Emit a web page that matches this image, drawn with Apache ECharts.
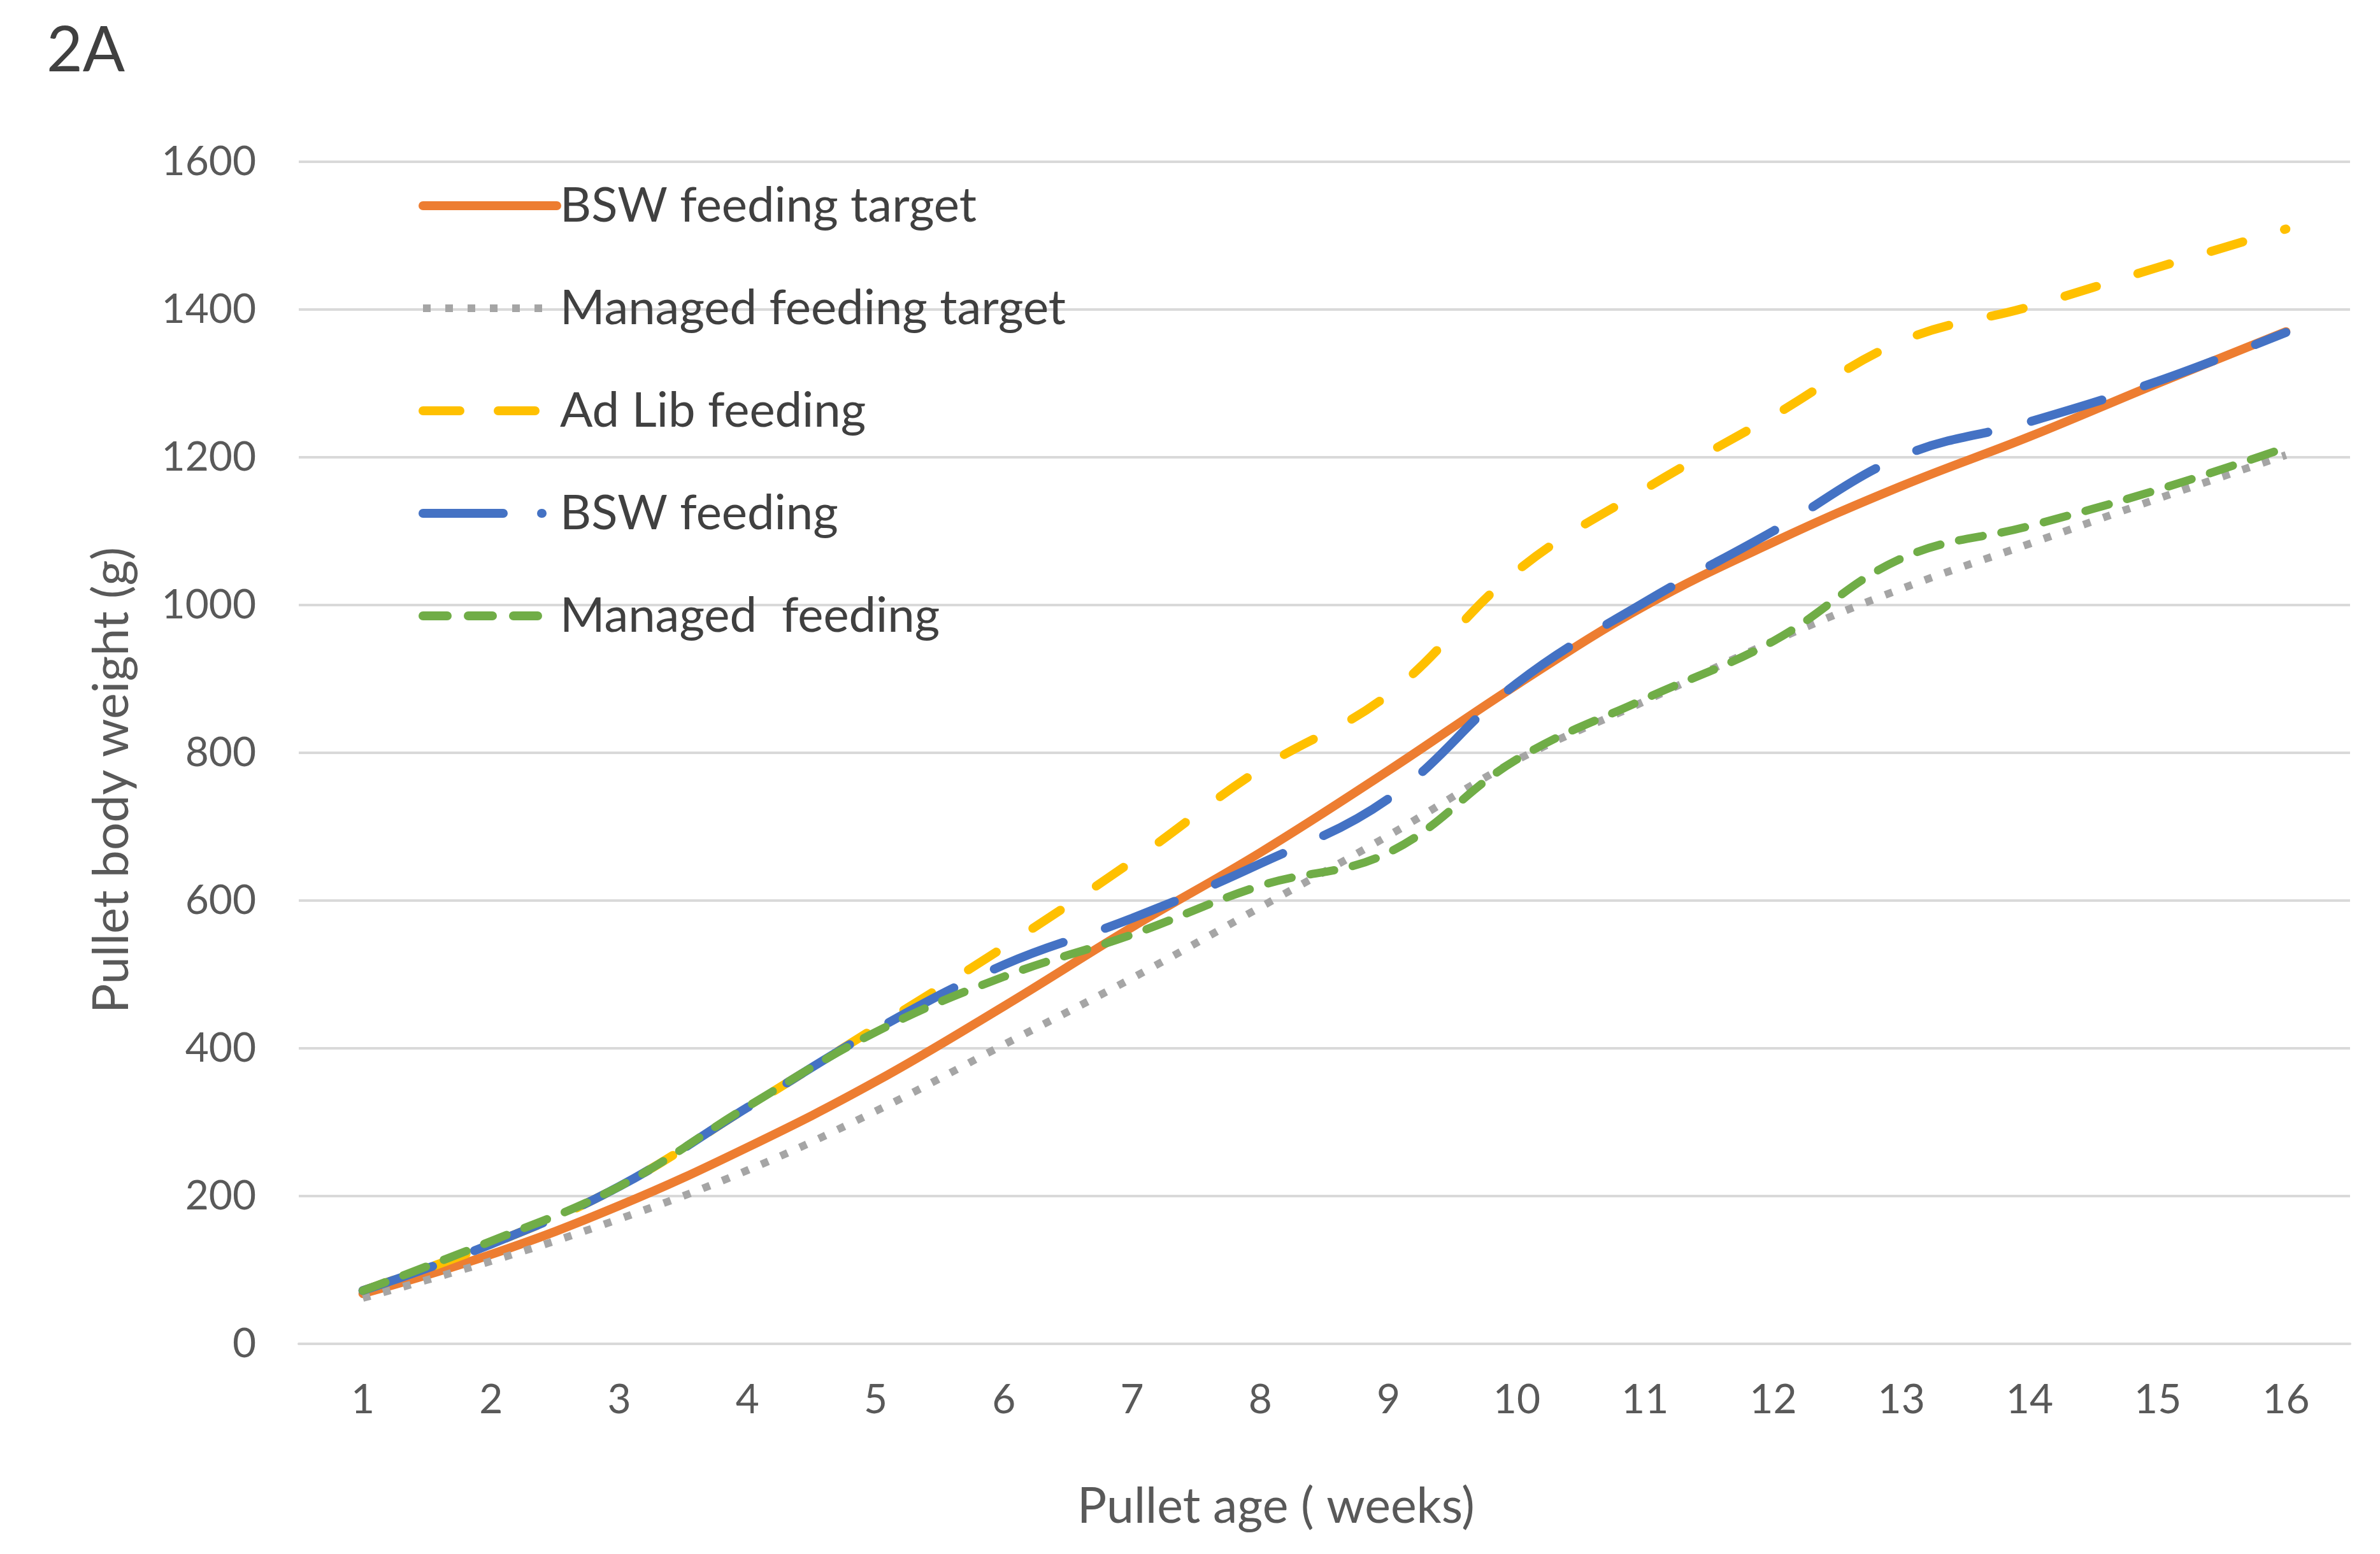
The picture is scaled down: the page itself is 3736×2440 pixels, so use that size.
<!DOCTYPE html>
<html>
<head>
<meta charset="utf-8">
<script src="https://cdn.jsdelivr.net/npm/echarts@6/dist/echarts.min.js"></script>
<style>
html,body{margin:0;padding:0;background:#fff;}
#chart{width:3736px;height:2440px;}
</style>
</head>
<body>
<div id="chart"></div>
<script>
const weeks = ['1','2','3','4','5','6','7','8','9','10','11','12','13','14','15','16'];
const yTicks = [0, 200, 400, 600, 800, 1000, 1200, 1400, 1600];
const seriesNames = ['BSW feeding target', 'Managed feeding target', 'Ad Lib feeding', 'BSW feeding', 'Managed  feeding'];
const bswTarget     = [68, 121, 187, 266, 355, 457, 564, 665, 776, 892, 999, 1085, 1161, 1228, 1300, 1370];
const managedTarget = [62, 112, 169, 235, 315, 405, 495, 591, 688, 790, 870, 951, 1022, 1083, 1144, 1203];
const adLib         = [72, 135, 213, 320, 428, 537, 653, 778, 879, 1046, 1157, 1256, 1357, 1404, 1457, 1509];
const bswFeeding    = [72, 135, 213, 320, 425, 513, 576, 650, 738, 894, 1004, 1100, 1201, 1248, 1303, 1369];
const managedFeeding= [72, 139, 213, 321, 422, 497, 554, 620, 665, 791, 873, 951, 1063, 1107, 1156, 1213];

const FONT = 'Lato';
const chart = echarts.init(document.getElementById('chart'), null, {renderer: 'canvas'});

const colors = ['#ED7D31', '#A5A5A5', '#FFC000', '#4472C4', '#70AD47'];

function lineSeries(name, data, color, width, type, cap) {
  return {
    name: name, type: 'line', data: data, smooth: 0.4,
    symbol: 'none', showSymbol: false,
    lineStyle: {color: color, width: width, type: type, cap: cap},
    itemStyle: {color: color},
    emphasis: {disabled: true},
    animation: false
  };
}

const option = {
  backgroundColor: '#ffffff',
  animation: false,
  title: {
    text: '2A', left: 68, top: 26,
    textStyle: {fontFamily: FONT, fontSize: 98, fontWeight: 'normal', color: '#404040'}
  },
  grid: {left: 469, right: 47, top: 254, bottom: 330, containLabel: false},
  legend: {
    orient: 'vertical', left: 652, top: 278,
    itemWidth: 210, itemHeight: 16, itemGap: 81,
    itemStyle: {opacity: 0},
    textStyle: {fontFamily: FONT, fontSize: 76, color: '#404040', lineHeight: 80},
    data: [
      {name: seriesNames[0], lineStyle: {color: colors[0], width: 14, type: 'solid', cap: 'round'}},
      {name: seriesNames[1], lineStyle: {color: colors[1], width: 12, type: [12, 23, 12, 23, 12, 23, 12, 23, 12, 23, 12, 200], cap: 'butt'}},
      {name: seriesNames[2], lineStyle: {color: colors[2], width: 14, type: [58, 60, 58, 200], cap: 'round'}},
      {name: seriesNames[3], lineStyle: {color: colors[3], width: 14, type: [126, 60, 1, 200], cap: 'round'}},
      {name: seriesNames[4], lineStyle: {color: colors[4], width: 14, type: [38, 33, 38, 33, 38, 200], cap: 'round'}}
    ]
  },
  xAxis: {
    type: 'category', data: weeks, boundaryGap: true,
    name: 'Pullet age ( weeks)', nameLocation: 'middle', nameGap: 218,
    nameTextStyle: {fontFamily: FONT, fontSize: 77, color: '#595959', padding: [0, 152, 0, 0]},
    axisLine: {show: true, lineStyle: {color: '#D9D9D9', width: 4}},
    axisTick: {show: false},
    axisLabel: {fontFamily: FONT, fontSize: 64, color: '#595959', margin: 56}
  },
  yAxis: {
    type: 'value', min: yTicks[0], max: yTicks[yTicks.length - 1], interval: 200,
    name: 'Pullet body weight (g)', nameLocation: 'middle', nameGap: 254,
    nameTextStyle: {fontFamily: FONT, fontSize: 77, color: '#595959', padding: [0, 86, 0, 0]},
    axisLine: {show: false}, axisTick: {show: false},
    axisLabel: {fontFamily: FONT, fontSize: 64, color: '#595959', margin: 67,
      formatter: function (v) { return String(v); }},
    splitLine: {show: true, lineStyle: {color: '#D9D9D9', width: 4}}
  },
  series: [
    lineSeries(seriesNames[0], bswTarget, colors[0], 14, 'solid', 'round'),
    lineSeries(seriesNames[1], managedTarget, colors[1], 12, [12, 21], 'butt'),
    lineSeries(seriesNames[2], adLib, colors[2], 14, [52, 68], 'round'),
    lineSeries(seriesNames[3], bswFeeding, colors[3], 14, [116, 70], 'round'),
    lineSeries(seriesNames[4], managedFeeding, colors[4], 13, [38, 30], 'round')
  ]
};
chart.setOption(option);
</script>
</body>
</html>
